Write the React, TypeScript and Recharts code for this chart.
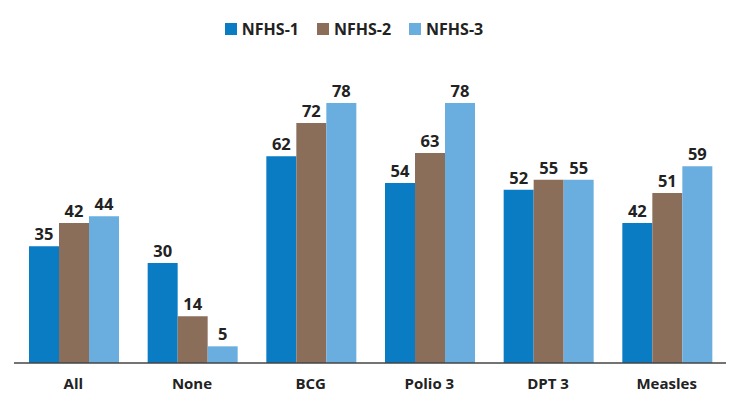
import { BarChart, Bar, XAxis, YAxis, Legend, LabelList } from 'recharts';

const categories = ['All', 'None', 'BCG', 'Polio 3', 'DPT 3', 'Measles'];
const nfhs1 = [35, 30, 62, 54, 52, 42];
const nfhs2 = [42, 14, 72, 63, 55, 51];
const nfhs3 = [44, 5, 78, 78, 55, 59];

const data = categories.map((name, i) => ({
  name,
  nfhs1: nfhs1[i],
  nfhs2: nfhs2[i],
  nfhs3: nfhs3[i],
}));

const font = '"Open Sans", "Noto Sans", sans-serif';
const labelStyle = { fill: '#222', fontSize: 16.5, fontWeight: 700, fontFamily: font };

function LegendContent({ payload }: any) {
  return (
    <div style={{ display: 'flex', justifyContent: 'center', gap: 18, paddingRight: 32, fontFamily: font, fontSize: 16, fontWeight: 700, color: '#222' }}>
      {(payload || []).map((p: any) => (
        <div key={p.value} style={{ display: 'flex', alignItems: 'center', gap: 5 }}>
          <span style={{ width: 12, height: 12, background: p.color, display: 'inline-block' }} />
          <span>{p.value}</span>
        </div>
      ))}
    </div>
  );
}

export default function App() {
  return (
    <div style={{ position: 'absolute', left: 0, top: 0, background: '#fff' }}>
      <BarChart
        width={729}
        height={401}
        data={data}
        margin={{ top: 40, right: 3, left: 14, bottom: 0 }}
        barCategoryGap={15}
        barGap={0}
      >
        <XAxis
          dataKey="name"
          height={38}
          tickLine={false}
          axisLine={{ stroke: '#444', strokeWidth: 1.5 }}
          tick={{ fill: '#222', fontSize: 15, fontWeight: 700, fontFamily: font }}
          tickMargin={9}
        />
        <YAxis hide domain={[0, 90]} />
        <Legend
          verticalAlign="top"
          align="center"
          height={23}
          wrapperStyle={{ top: 18 }}
          content={<LegendContent />}
        />
        <Bar dataKey="nfhs1" name="NFHS-1" fill="#0a7cc4" isAnimationActive={false}>
          <LabelList dataKey="nfhs1" position="top" style={labelStyle} offset={6} />
        </Bar>
        <Bar dataKey="nfhs2" name="NFHS-2" fill="#8b6e5a" isAnimationActive={false}>
          <LabelList dataKey="nfhs2" position="top" style={labelStyle} offset={6} />
        </Bar>
        <Bar dataKey="nfhs3" name="NFHS-3" fill="#6aaee0" isAnimationActive={false}>
          <LabelList dataKey="nfhs3" position="top" style={labelStyle} offset={6} />
        </Bar>
      </BarChart>
    </div>
  );
}
